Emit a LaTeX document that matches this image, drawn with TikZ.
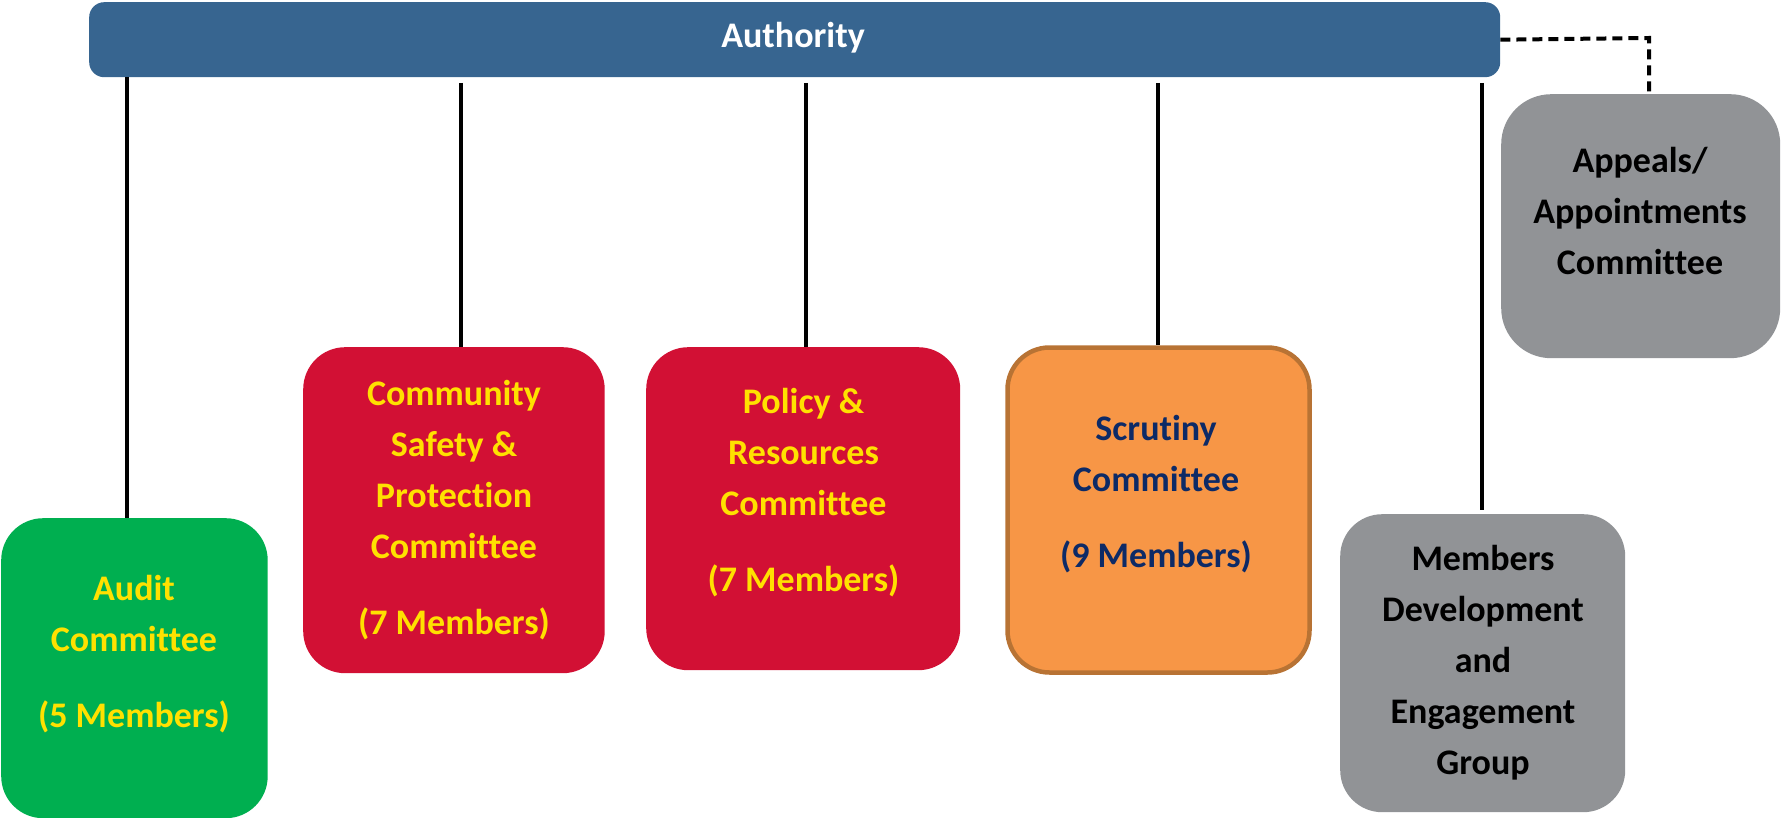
\documentclass[tikz,border=0pt]{standalone}
\usepackage{fontspec}
\setmainfont{Carlito}[Ligatures=NoCommon]
\definecolor{barblue}{HTML}{376590}
\definecolor{auditgreen}{HTML}{00AF50}
\definecolor{comred}{HTML}{D21034}
\definecolor{scrorange}{HTML}{F79646}
\definecolor{scrborder}{HTML}{B87334}
\definecolor{boxgrey}{HTML}{919396}
\definecolor{txtyellow}{HTML}{FFE100}
\definecolor{txtnavy}{HTML}{0D2A66}
\tikzset{
  box/.style={draw=none, rounded corners=42pt, anchor=north west, inner sep=0pt},
  txt/.style={font=\bfseries\fontsize{36}{51}\selectfont, align=center, inner sep=0pt},
  conn/.style={line width=4pt, black},
  dashconn/.style={line width=4pt, black, dash pattern=on 10pt off 6pt},
}
\begin{document}
\begin{tikzpicture}[x=1pt,y=-1pt]
\useasboundingbox (0,0) rectangle (1782,818);
% Authority bar
\node[box, rounded corners=15pt, fill=barblue, minimum width=1411pt, minimum height=75pt] (auth) at (89,2) {};
\node[txt, text=white] (authtxt) at (793,38) {Authority};
% boxes
\node[box, fill=auditgreen, minimum width=266.5pt, minimum height=300pt] (audit) at (1,518) {};
\node[box, fill=comred, minimum width=301.5pt, minimum height=326pt] (comm) at (303,347) {};
\node[box, fill=comred, minimum width=314pt, minimum height=323pt] (policy) at (646,347) {};
\node[box, fill=scrorange, draw=scrborder, line width=4.5pt, minimum width=302pt, minimum height=325pt] (scrut) at (1005.25,345.25) {};
\node[box, fill=boxgrey, minimum width=285pt, minimum height=298pt] (memb) at (1340,514) {};
\node[box, rounded corners=50pt, fill=boxgrey, minimum width=279pt, minimum height=264pt] (appeals) at (1501,94) {};
% texts
\node[txt, text=txtyellow] (audittxt) at (134,654) {Audit\\Committee\\[25pt](5 Members)};
\node[txt, text=txtyellow] (commtxt) at (454,510) {Community\\Safety \&\\Protection\\Committee\\[25pt](7 Members)};
\node[txt, text=txtyellow] (policytxt) at (803.5,493) {Policy \&\\Resources\\Committee\\[25pt](7 Members)};
\node[txt, text=txtnavy] (scruttxt) at (1156,494) {Scrutiny\\Committee\\[25pt](9 Members)};
\node[txt, text=black] (membtxt) at (1483,663) {Members\\Development\\and\\Engagement\\Group};
\node[txt, text=black] (appealstxt) at (1640,211.5) {Appeals/\\Appointments\\Committee};
% connectors
\coordinate (ta) at (126.5,77);
\coordinate (tc) at (461,83);
\coordinate (tp) at (806,83);
\coordinate (ts) at (1158,83);
\coordinate (tm) at (1482,83);
\coordinate (dk) at (1649,38);
\draw[conn] (ta) -- (ta |- audit.north);
\draw[conn] (tc) -- (tc |- comm.north);
\draw[conn] (tp) -- (tp |- policy.north);
\draw[conn] (ts) -- (ts |- scrut.north);
\draw[conn] (tm) -- ([yshift=4pt]tm |- memb.north);
\draw[dashconn] (auth.east) -- (dk) -- (dk |- appeals.north);
\end{tikzpicture}
\end{document}
